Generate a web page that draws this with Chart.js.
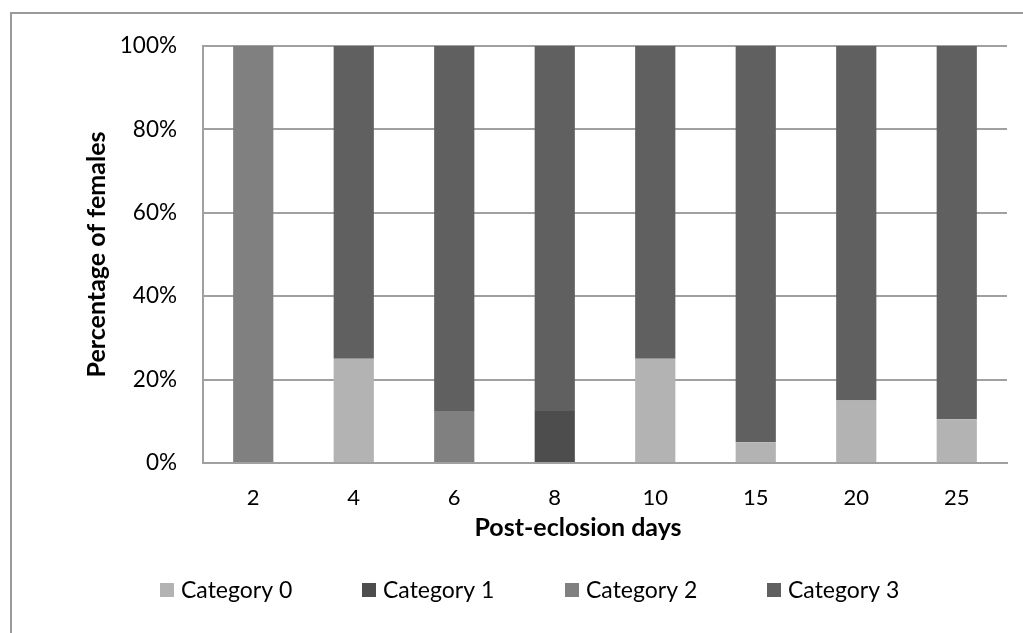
<!DOCTYPE html>
<html>
<head>
<meta charset="utf-8">
<script src="https://cdn.jsdelivr.net/npm/chart.js@4/dist/chart.umd.min.js"></script>
<style>
  html, body { margin: 0; padding: 0; background: #fff; }
  #wrap { width: 1023px; height: 633px; position: relative; }
</style>
</head>
<body>
<div id="wrap"><canvas id="chart"></canvas></div>
<script>
const DAYS = ['2', '4', '6', '8', '10', '15', '20', '25'];
const CAT0 = [0, 25, 0, 0, 25, 5, 15, 10.5];
const CAT1 = [0, 0, 0, 12.5, 0, 0, 0, 0];
const CAT2 = [100, 0, 12.5, 0, 0, 0, 0, 0];
const CAT3 = [0, 75, 87.5, 87.5, 75, 95, 85, 89.5];
const SERIES_LABELS = ['Category 0', 'Category 1', 'Category 2', 'Category 3'];
const SERIES_COLORS = ['#b3b3b3', '#4d4d4d', '#808080', '#606060'];
const Y_TICKS = [0, 20, 40, 60, 80, 100];
const X_TITLE = 'Post-eclosion days';
const Y_TITLE = 'Percentage of females';

const FONT = 'Lato, "Open Sans", sans-serif';
const GRID = '#a0a0a0';

// outer frame (cropped on the right and bottom like the source)
const framePlugin = {
  id: 'frame',
  beforeDraw(chart) {
    const { ctx } = chart;
    ctx.save();
    ctx.strokeStyle = '#9a9a9a';
    ctx.lineWidth = 2;
    ctx.beginPath();
    ctx.moveTo(11, 700);
    ctx.lineTo(11, 13);
    ctx.lineTo(1100, 13);
    ctx.stroke();
    ctx.restore();
  }
};

// x title sits centred on the whole (cropped) frame, not on the plot,
// and the legend row uses fixed slots
const extrasPlugin = {
  id: 'extras',
  afterDraw(chart) {
    const { ctx } = chart;
    ctx.save();
    ctx.fillStyle = '#000';
    ctx.font = `bold 25px ${FONT}`;
    ctx.textAlign = 'center';
    ctx.textBaseline = 'middle';
    ctx.fillText(X_TITLE, 578, 528);

    const slots = [160, 362, 565, 767];
    const y = 590;
    ctx.font = `23px ${FONT}`;
    ctx.textAlign = 'left';
    chart.data.datasets.forEach((ds, i) => {
      const x = slots[i];
      ctx.fillStyle = ds.backgroundColor;
      ctx.fillRect(x, y - 7, 14, 14);
      ctx.fillStyle = '#000';
      ctx.fillText(ds.label, x + 21, y + 1);
    });
    ctx.restore();
  }
};

const datasets = [CAT0, CAT1, CAT2, CAT3].map((values, i) => ({
  label: SERIES_LABELS[i],
  data: values,
  backgroundColor: SERIES_COLORS[i],
  borderWidth: 0,
  categoryPercentage: 1,
  barPercentage: 0.4
}));

new Chart(document.getElementById('chart'), {
  type: 'bar',
  data: { labels: DAYS, datasets },
  options: {
    responsive: true,
    maintainAspectRatio: false,
    animation: false,
    layout: { padding: { left: 0, top: 46, right: 16, bottom: 85 } },
    plugins: {
      legend: { display: false },
      tooltip: { enabled: false }
    },
    scales: {
      x: {
        stacked: true,
        afterFit: (scale) => { scale.height = 85; },
        grid: { display: false, drawTicks: false },
        border: { display: true, color: GRID, width: 2 },
        ticks: { color: '#000', font: { family: FONT, size: 22 }, padding: 22 }
      },
      y: {
        stacked: true,
        min: 0,
        max: 100,
        afterFit: (scale) => { scale.width = 203; },
        afterBuildTicks: (scale) => { scale.ticks = Y_TICKS.map((v) => ({ value: v })); },
        grid: { color: GRID, lineWidth: 2, drawTicks: false },
        border: { display: true, color: GRID, width: 2 },
        ticks: {
          color: '#000',
          font: { family: FONT, size: 22.5 },
          padding: 26,
          callback: (value) => `${value}%`
        },
        title: {
          display: true,
          text: Y_TITLE,
          color: '#000',
          font: { family: FONT, size: 25, weight: 'bold' },
          padding: { top: 82, bottom: 0 }
        }
      }
    }
  },
  plugins: [framePlugin, extrasPlugin]
});
</script>
</body>
</html>
